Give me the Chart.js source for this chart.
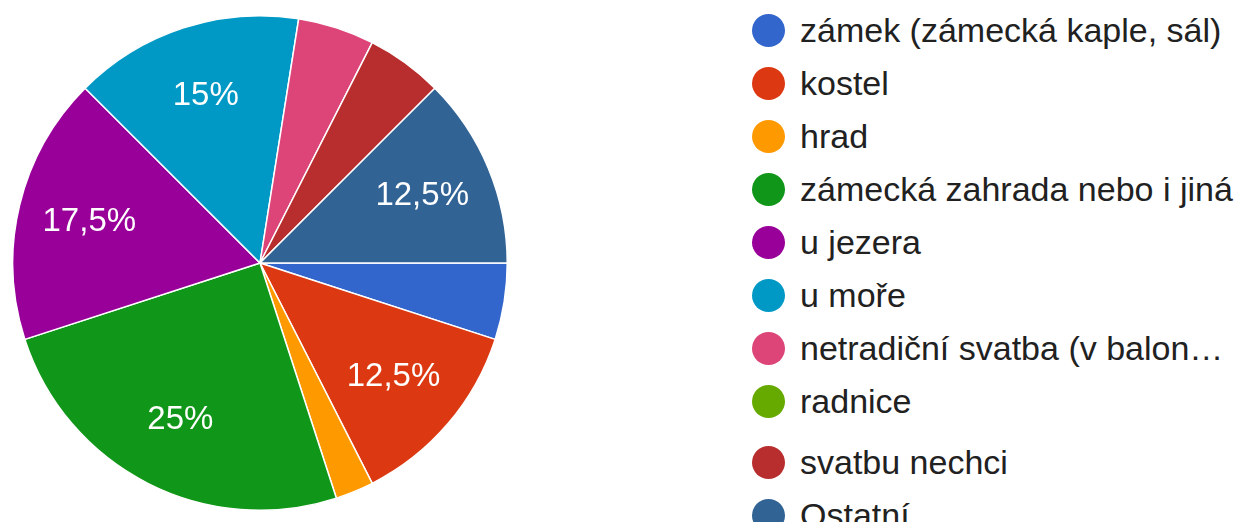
<!DOCTYPE html>
<html>
<head>
<meta charset="utf-8">
<script src="https://cdn.jsdelivr.net/npm/chart.js@4"></script>
<style>
    html, body { margin: 0; padding: 0; background: #fff; }
    body { width: 1239px; height: 522px; overflow: hidden; position: relative; font-family: Arial, "Liberation Sans", sans-serif; }
    #pie-wrap { position: absolute; left: 11px; top: 15px; width: 498px; height: 496px; }
    #legend { position: absolute; left: 752px; top: 0; }
    .item { position: absolute; left: 0; display: flex; align-items: center; height: 34px; white-space: nowrap; }
    .dot { width: 33px; height: 33px; border-radius: 50%; margin-right: 15px; flex: none; }
    .txt { font-size: 34px; line-height: 1; color: #212121; }
</style>
</head>
<body>
<div id="pie-wrap"><canvas id="pie"></canvas></div>
<div id="legend"></div>
<script>
const labels = ['zámek (zámecká kaple, sál)', 'kostel', 'hrad', 'zámecká zahrada nebo i jiná', 'u jezera', 'u moře', 'netradiční svatba (v balon…', 'radnice', 'svatbu nechci', 'Ostatní'];
const shares = [5, 12.5, 2.5, 25, 17.5, 15, 5, 0, 5, 12.5];
const colors = ['#3366cc', '#dc3912', '#ff9900', '#109618', '#990099', '#0099c6', '#dd4477', '#66aa00', '#b82e2e', '#316395'];

// percentage labels inside the big slices
const sliceLabels = {
    id: 'sliceLabels',
    afterDatasetsDraw(chart) {
        const ctx = chart.ctx;
        const meta = chart.getDatasetMeta(0);
        ctx.save();
        ctx.fillStyle = '#fff';
        ctx.font = '33px Arial, "Liberation Sans", sans-serif';
        ctx.textAlign = 'center';
        ctx.textBaseline = 'middle';
        meta.data.forEach((arc, i) => {
            const v = shares[i];
            if (v < 10) return;
            const mid = (arc.startAngle + arc.endAngle) / 2;
            const d = arc.outerRadius * 0.71;
            const text = String(v).replace('.', ',') + '%';
            ctx.fillText(text, arc.x + Math.cos(mid) * d, arc.y + Math.sin(mid) * d);
        });
        ctx.restore();
    }
};

new Chart(document.getElementById('pie'), {
    type: 'pie',
    data: {
        labels: labels,
        datasets: [{
            data: shares,
            backgroundColor: colors,
            borderColor: '#fff',
            borderWidth: 1.5,
            hoverOffset: 0
        }]
    },
    options: {
        responsive: true,
        maintainAspectRatio: false,
        animation: false,
        rotation: 90,
        layout: { padding: 0 },
        plugins: {
            legend: { display: false },
            tooltip: { enabled: false }
        }
    },
    plugins: [sliceLabels]
});

// legend on the right
const legend = document.getElementById('legend');
labels.forEach((name, i) => {
    const row = document.createElement('div');
    row.className = 'item';
    const top = 13 + i * 53 + (i > 7 ? 8 : 0);
    row.style.top = top + 'px';
    row.innerHTML = `<span class="dot" style="background:${colors[i]}"></span><span class="txt">${name}</span>`;
    legend.appendChild(row);
});
</script>
</body>
</html>
